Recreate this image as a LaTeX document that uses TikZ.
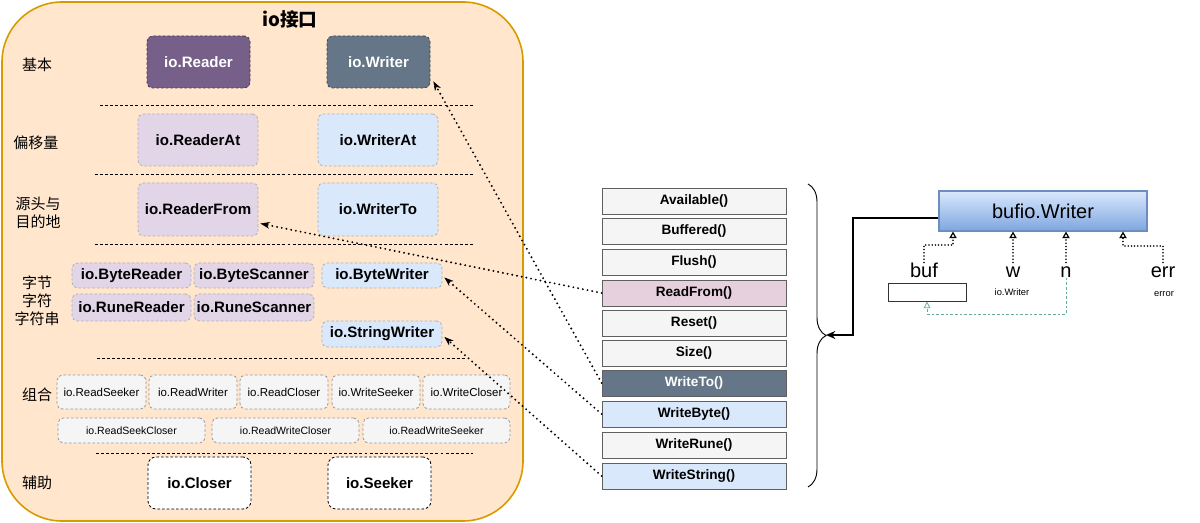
\documentclass[tikz,border=0pt]{standalone}
\usepackage{fontspec}
\setmainfont{Liberation Sans}
\newfontfamily\cjk{Noto Sans CJK SC}
\usetikzlibrary{arrows.meta,decorations.pathreplacing,calc}
\definecolor{peach}{HTML}{FFE6CC}
\definecolor{peachline}{HTML}{D79B00}
\definecolor{rdfill}{HTML}{76608A}
\definecolor{wrfill}{HTML}{647687}
\definecolor{lpurple}{HTML}{E1D5E7}
\definecolor{lblue}{HTML}{DAE8FC}
\definecolor{lgray}{HTML}{F5F5F5}
\definecolor{lpink}{HTML}{E6D0DE}
\definecolor{gtop}{HTML}{DAE8FC}
\definecolor{gbot}{HTML}{7EA6E0}
\definecolor{gline}{HTML}{6C8EBF}
\definecolor{teal}{HTML}{67AB9F}
\newcommand{\rb}[7]{\node[#6,minimum width={((#4)-(#2))*0.75pt},minimum height={((#5)-(#3))*0.75pt}] (#1) at ({((#2)+(#4))/2},{((#3)+(#5))/2}) {#7};}
\tikzset{
  lb/.style={inner sep=0pt, rounded corners=4pt, dash pattern=on 2pt off 1.5pt, line width=0.6pt, font=\bfseries\fontsize{11.3}{13}\selectfont},
  darkr/.style={lb, fill=rdfill, draw=rdfill!60!black, text=white},
  darkw/.style={lb, fill=wrfill, draw=wrfill!60!black, text=white},
  pur/.style={lb, fill=lpurple, draw=gray!60},
  blu/.style={lb, fill=lblue, draw=gray!60},
  cmb/.style={lb, fill=lgray, draw=gray!80, font=\fontsize{8.6}{10}\selectfont},
  cmbs/.style={lb, fill=lgray, draw=gray!80, font=\fontsize{7.9}{9}\selectfont},
  aux/.style={lb, fill=white, draw=black, rounded corners=6pt},
  rowlab/.style={inner sep=0pt, align=center, font=\cjk\fontsize{11.25}{13.5}\selectfont},
  sep/.style={line width=0.6pt, dash pattern=on 2.2pt off 1.6pt},
  lst/.style={draw=gray!75!black, line width=0.6pt, fill=lgray, inner sep=0pt, minimum width=184*0.75pt, minimum height=26*0.75pt, font=\bfseries\fontsize{10.2}{12}\selectfont},
  conn/.style={line width=1.6pt, dash pattern=on 0pt off 3.6pt, line cap=round, -{Stealth[length=7pt,width=5pt,line width=0.4pt]}},
  mem/.style={line width=1.3pt, dash pattern=on 0pt off 2.4pt, line cap=round, -{Triangle[open,length=5pt,width=5.5pt,line width=0.9pt]}},
  mlab/.style={inner sep=0pt, text height=11pt, text depth=0pt, font=\fontsize{15}{17}\selectfont},
  small/.style={inner sep=0pt, font=\fontsize{7}{8}\selectfont}
}
\begin{document}
\begin{tikzpicture}[x=0.75pt,y=-0.75pt]
\useasboundingbox (0,0) rectangle (1200,523);
% panel
\rb{panel}{2}{2}{523}{521}{draw=peachline, fill=peach, line width=1.2pt, rounded corners=45pt, inner sep=0pt}{}
\node[inner sep=0pt, font=\cjk\bfseries\fontsize{14}{16}\selectfont] (title) at (290,19) {io接口};
% row labels
\node[rowlab] (l1) at (37,65) {基本};
\node[rowlab] (l2) at (36,143) {偏移量};
\node[rowlab] (l3) at (38,213) {源头与\\目的地};
\node[rowlab] (l4) at (37,301) {字节\\字符\\字符串};
\node[rowlab] (l5) at (37,395) {组合};
\node[rowlab] (l6) at (37,483) {辅助};
% separators
\draw[sep] (100,105) -- (473,105);
\draw[sep] (95,174) -- (473,174);
\draw[sep] (95,244) -- (473,244);
\draw[sep] (97,358) -- (465,358);
\draw[sep] (96,453) -- (473,453);
% boxes
\rb{reader}{147}{36}{250}{88}{darkr}{io.Reader}
\rb{writer}{327}{36}{430}{88}{darkw}{io.Writer}
\rb{rat}{138}{114}{258}{166}{pur}{io.ReaderAt}
\rb{wat}{318}{114}{438}{166}{blu}{io.WriterAt}
\rb{rfrom}{138}{183}{258}{236}{pur}{io.ReaderFrom}
\rb{wto}{318}{183}{438}{236}{blu}{io.WriterTo}
\rb{breader}{72}{263}{191}{288}{pur}{io.ByteReader}
\rb{bscan}{194}{263}{314}{288}{pur}{io.ByteScanner}
\rb{bwriter}{322}{263}{442}{288}{blu}{io.ByteWriter}
\rb{rreader}{72}{294}{191}{321}{pur}{io.RuneReader}
\rb{rscan}{194}{294}{314}{321}{pur}{io.RuneScanner}
\rb{swriter}{322}{321}{442}{347}{blu}{io.StringWriter}
\rb{c1}{57}{375}{146}{409}{cmb}{io.ReadSeeker}
\rb{c2}{149}{375}{237}{409}{cmb}{io.ReadWriter}
\rb{c3}{240}{375}{328}{409}{cmb}{io.ReadCloser}
\rb{c4}{332}{375}{420}{409}{cmb}{io.WriteSeeker}
\rb{c5}{423}{375}{510}{409}{cmb}{io.WriteCloser}
\rb{d1}{58}{418}{205}{443}{cmbs}{io.ReadSeekCloser}
\rb{d2}{212}{418}{359}{443}{cmbs}{io.ReadWriteCloser}
\rb{d3}{363}{418}{510}{443}{cmbs}{io.ReadWriteSeeker}
\rb{closer}{148}{457}{251}{509}{aux}{io.Closer}
\rb{seeker}{328}{457}{431}{509}{aux}{io.Seeker}
% method list
\node[lst] (m1) at (694,201) {Available()};
\node[lst] (m2) at (694,231) {Buffered()};
\node[lst] (m3) at (694,262) {Flush()};
\node[lst, fill=lpink] (m4) at (694,293) {ReadFrom()};
\node[lst] (m5) at (694,323) {Reset()};
\node[lst] (m6) at (694,353) {Size()};
\node[lst, fill=wrfill, text=white] (m7) at (694,383) {WriteTo()};
\node[lst, fill=lblue] (m8) at (694,414) {WriteByte()};
\node[lst] (m9) at (694,445) {WriteRune()};
\node[lst, fill=lblue] (m10) at (694,476) {WriteString()};
% connectors
\draw[conn] (m7.west) -- ($(writer.south east)+(3,-7)$);
\draw[conn] (m4.west) -- ($(rfrom.east)+(2,14)$);
\draw[conn] (m8.west) -- ($(bwriter.east)+(2,2)$);
\draw[conn] (m10.west) -- ($(swriter.east)+(2,3)$);
% brace
\draw[decorate, decoration={brace, amplitude=13.5pt}, line width=0.7pt] (808,184) -- (808,487);
\coordinate (btip) at (826,335);
\coordinate (bend) at (853,335);
% bufio.Writer
\rb{bufio}{939}{191}{1147}{231}{draw=gline, line width=0.8pt, top color=gtop, bottom color=gbot, inner sep=0pt, font=\fontsize{15}{17}\selectfont}{bufio.Writer}
\draw[line width=1.5pt, -{Stealth[length=7pt,width=6pt]}] ([yshift=-5pt]bufio.west) -| (bend) -- (btip);
% members
\node[mlab] (buf) at (924,270) {buf};
\node[mlab] (w) at (1013,270) {w};
\node[mlab] (n) at (1066,270) {n};
\node[mlab] (err) at (1163,270) {err};
\node[small] (wt) at (1012,292) {io.Writer};
\node[small] (et) at (1164,294) {error};
\rb{bufbox}{888}{283}{966}{301}{draw=black!80, fill=white, line width=0.7pt, inner sep=0pt}{}
\coordinate (bk) at (953,245);
\coordinate (ek) at (1123,246);
\draw[mem] (buf.north) |- (bk) -- (bk |- bufio.south);
\draw[mem] (w.north) -- (w.north |- bufio.south);
\draw[mem] (n.north) -- (n.north |- bufio.south);
\draw[mem] (err.north) |- (ek) -- (ek |- bufio.south);
\coordinate (gy) at (1067,314);
\draw[teal, line width=0.6pt, dash pattern=on 2pt off 1.5pt, -{Triangle[open,length=5pt,width=5pt,line width=0.6pt]}] (n.south) -- (n.south |- gy) -| (bufbox.south);
\end{tikzpicture}
\end{document}
